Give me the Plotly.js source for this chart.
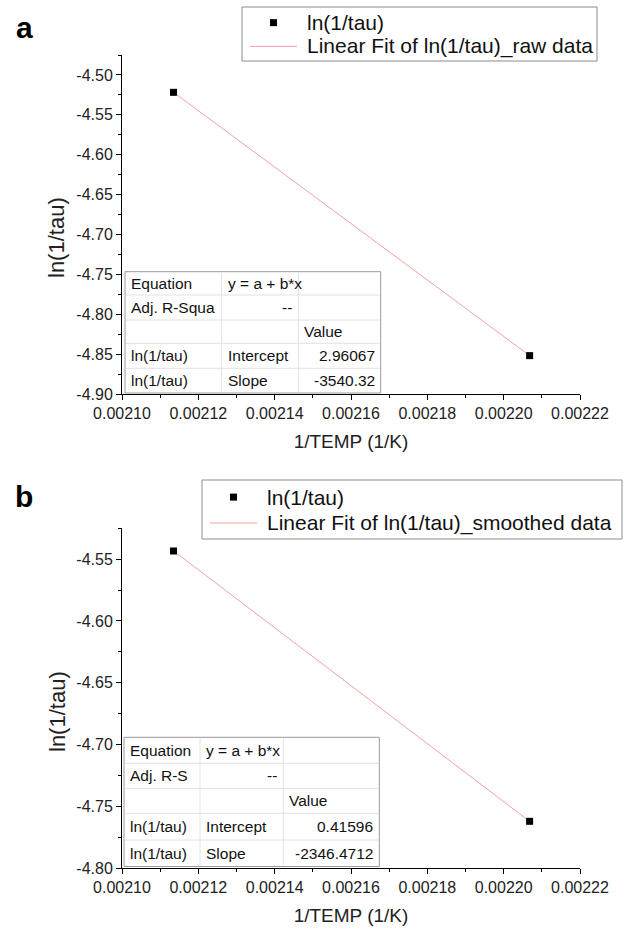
<!DOCTYPE html>
<html>
<head>
<meta charset="utf-8">
<script src="https://cdn.plot.ly/plotly-3.0.1.min.js"></script>
<style>html,body{margin:0;padding:0;background:#fff;}</style>
</head>
<body>
<div id="chart" style="width:624px;height:931px;"></div>
<script>
// ---- data ----
const invTemp = [0.0021135, 0.0022068];          // 1/TEMP (1/K)
const lnTauRaw = [-4.5218, -4.8519];             // panel a
const lnTauSmoothed = [-4.5433, -4.7622];        // panel b
const xTickVals = [0.00210, 0.00212, 0.00214, 0.00216, 0.00218, 0.00220, 0.00222];
const xTickText = ["0.00210", "0.00212", "0.00214", "0.00216", "0.00218", "0.00220", "0.00222"];
const yTickValsA = [-4.90, -4.85, -4.80, -4.75, -4.70, -4.65, -4.60, -4.55, -4.50];
const yTickTextA = ["-4.90", "-4.85", "-4.80", "-4.75", "-4.70", "-4.65", "-4.60", "-4.55", "-4.50"];
const yTickValsB = [-4.80, -4.75, -4.70, -4.65, -4.60, -4.55];
const yTickTextB = ["-4.80", "-4.75", "-4.70", "-4.65", "-4.60", "-4.55"];
const legendNamesA = ["ln(1/tau)", "Linear Fit of ln(1/tau)_raw data"];
const legendNamesB = ["ln(1/tau)", "Linear Fit of ln(1/tau)_smoothed data"];
const tableACol1 = ["Equation", "Adj. R-Squa", "", "ln(1/tau)", "ln(1/tau)"];
const tableACol2 = ["y = a + b*x", "--", "", "Intercept", "Slope"];
const tableACol3 = ["", "", "Value", "2.96067", "-3540.32"];
const tableBCol1 = ["Equation", "Adj. R-S", "", "ln(1/tau)", "ln(1/tau)"];
const tableBCol2 = ["y = a + b*x", "--", "", "Intercept", "Slope"];
const tableBCol3 = ["", "", "Value", "0.41596", "-2346.4712"];

// ---- layout helpers ----
const W = 624, H = 931;
const M = {l: 122, r: 44, t: 55, b: 63, autoexpand: false};
const PW = W - M.l - M.r, PH = H - M.t - M.b;
const PX = p => (p - M.l) / PW;
const PY = p => (H - M.b - p) / PH;

const FONT = "Liberation Sans, Arial, sans-serif";
const fitColor = "#f2a2a2";

const traces = [
  {x: invTemp, y: lnTauRaw, type: "scatter", mode: "lines", name: legendNamesA[1],
   line: {color: fitColor, width: 1}, xaxis: "x", yaxis: "y"},
  {x: invTemp, y: lnTauRaw, type: "scatter", mode: "markers", name: legendNamesA[0],
   marker: {symbol: "square", size: 7, color: "#000"}, xaxis: "x", yaxis: "y"},
  {x: invTemp, y: lnTauSmoothed, type: "scatter", mode: "lines", name: legendNamesB[1],
   line: {color: fitColor, width: 1}, xaxis: "x2", yaxis: "y2"},
  {x: invTemp, y: lnTauSmoothed, type: "scatter", mode: "markers", name: legendNamesB[0],
   marker: {symbol: "square", size: 7, color: "#000"}, xaxis: "x2", yaxis: "y2"}
];

function xAxis(anchor) {
  return {
    anchor: anchor, domain: [0, 1], range: [0.00210, 0.00222],
    tickvals: xTickVals, ticktext: xTickText,
    ticks: "outside", ticklen: 5, tickwidth: 1, tickcolor: "#000",
    minor: {dtick: 0.00001, tick0: 0.00210, ticks: "outside", ticklen: 3, tickcolor: "#000", showgrid: false},
    showline: true, linecolor: "#000", linewidth: 1, showgrid: false, zeroline: false,
    tickfont: {family: FONT, size: 16, color: "#222"},
    title: {text: "1/TEMP (1/K)", font: {family: FONT, size: 19, color: "#222"}, standoff: 13},
    fixedrange: true
  };
}
function yAxis(anchor, dom, rng, tv, tt) {
  return {
    anchor: anchor, domain: dom, range: rng,
    tickvals: tv, ticktext: tt,
    ticks: "outside", ticklen: 5, tickwidth: 1, tickcolor: "#000",
    minor: {dtick: 0.025, tick0: rng[0], ticks: "outside", ticklen: 3, tickcolor: "#000", showgrid: false},
    showline: true, linecolor: "#000", linewidth: 1, showgrid: false, zeroline: false,
    tickfont: {family: FONT, size: 16, color: "#222"},
    fixedrange: true
  };
}

const shapes = [];
const annotations = [];
function addTable(cols, rows, c1, c2, c3) {
  const xa = PX(cols[0]), xb = PX(cols[3]);
  const ya = PY(rows[0]), yb = PY(rows[rows.length - 1]);
  shapes.push({type: "rect", xref: "paper", yref: "paper", x0: xa, x1: xb, y0: yb, y1: ya,
    fillcolor: "#fff", line: {color: "#9a9a9a", width: 1}, layer: "above"});
  for (let i = 1; i < rows.length - 1; i++) {
    shapes.push({type: "line", xref: "paper", yref: "paper", x0: PX(cols[0] + 1), x1: PX(cols[3] - 1),
      y0: PY(rows[i]), y1: PY(rows[i]), line: {color: "#e2e2e2", width: 1}, layer: "above"});
  }
  for (let j = 1; j < 3; j++) {
    shapes.push({type: "line", xref: "paper", yref: "paper", x0: PX(cols[j]), x1: PX(cols[j]),
      y0: PY(rows[rows.length - 1] - 1), y1: PY(rows[0] + 1), line: {color: "#e2e2e2", width: 1}, layer: "above"});
  }
  const colsText = [c1, c2, c3];
  for (let r = 0; r < 5; r++) {
    const yc = PY((rows[r] + rows[r + 1]) / 2);
    for (let c = 0; c < 3; c++) {
      const t = colsText[c][r];
      if (!t) continue;
      const right = (c === 1 && r === 1) || (c === 2 && r >= 3);
      annotations.push({xref: "paper", yref: "paper", x: right ? PX(cols[c + 1] - 4) : PX(cols[c] + 4),
        y: yc, xanchor: right ? "right" : "left", yanchor: "middle", showarrow: false, text: t,
        font: {family: FONT, size: 15.5, color: "#111"}});
    }
  }
}
addTable([125, 221.7, 298.3, 380.7], [271.7, 295, 320, 343.3, 368.3, 393], tableACol1, tableACol2, tableACol3);
addTable([124, 200, 283.3, 379.3], [737.3, 763.3, 788.3, 813.3, 840, 866.5], tableBCol1, tableBCol2, tableBCol3);

// legend boxes (Origin style): box, marker sample, line sample, labels
function addLegend(box, names) {
  const [x0, y0, x1, y1] = box;
  shapes.push({type: "rect", xref: "paper", yref: "paper", x0: PX(x0), x1: PX(x1), y0: PY(y1), y1: PY(y0),
    fillcolor: "#fff", line: {color: "#8c8c8c", width: 1}, layer: "above"});
  const row1 = y0 + (y1 - y0) * 0.29, row2 = y0 + (y1 - y0) * 0.73;
  const lineA = x0 + 8, lineB = x0 + 55, mid = (lineA + lineB) / 2;
  shapes.push({type: "rect", xref: "paper", yref: "paper", x0: PX(mid - 3.5), x1: PX(mid + 3.5),
    y0: PY(row1 + 3.5), y1: PY(row1 - 3.5), fillcolor: "#000", line: {width: 0}, layer: "above"});
  shapes.push({type: "line", xref: "paper", yref: "paper", x0: PX(lineA), x1: PX(lineB),
    y0: PY(row2), y1: PY(row2), line: {color: fitColor, width: 1}, layer: "above"});
  annotations.push({xref: "paper", yref: "paper", x: PX(x0 + 63), y: PY(row1), xanchor: "left", yanchor: "middle",
    showarrow: false, text: names[0], font: {family: FONT, size: 21, color: "#111"}});
  annotations.push({xref: "paper", yref: "paper", x: PX(x0 + 63), y: PY(row2), xanchor: "left", yanchor: "middle",
    showarrow: false, text: names[1], font: {family: FONT, size: 21, color: "#111"}});
}
addLegend([242, 7, 597, 61], legendNamesA);
addLegend([202, 480, 622, 539], legendNamesB);

annotations.push({xref: "paper", yref: "paper", x: PX(24), y: PY(27), xanchor: "center", yanchor: "middle",
  showarrow: false, text: "<b>a</b>", font: {family: FONT, size: 30, color: "#000"}});
annotations.push({xref: "paper", yref: "paper", x: PX(24), y: PY(497), xanchor: "center", yanchor: "middle",
  showarrow: false, text: "<b>b</b>", font: {family: FONT, size: 30, color: "#000"}});
// y-axis titles
annotations.push({xref: "paper", yref: "paper", x: PX(57), y: PY(238), xanchor: "center", yanchor: "middle",
  textangle: -90, showarrow: false, text: "ln(1/tau)", font: {family: FONT, size: 22, color: "#222"}});
annotations.push({xref: "paper", yref: "paper", x: PX(57), y: PY(712), xanchor: "center", yanchor: "middle",
  textangle: -90, showarrow: false, text: "ln(1/tau)", font: {family: FONT, size: 22, color: "#222"}});

const layout = {
  width: W, height: H, margin: M,
  paper_bgcolor: "#fff", plot_bgcolor: "#fff",
  showlegend: false,
  xaxis: xAxis("y"),
  yaxis: yAxis("x", [PY(394), 1], [-4.90, -4.475], yTickValsA, yTickTextA),
  xaxis2: xAxis("y2"),
  yaxis2: yAxis("x2", [0, PY(528.3)], [-4.80, -4.525], yTickValsB, yTickTextB),
  shapes: shapes,
  annotations: annotations
};

Plotly.newPlot("chart", traces, layout, {displayModeBar: false, staticPlot: true});
</script>
</body>
</html>
